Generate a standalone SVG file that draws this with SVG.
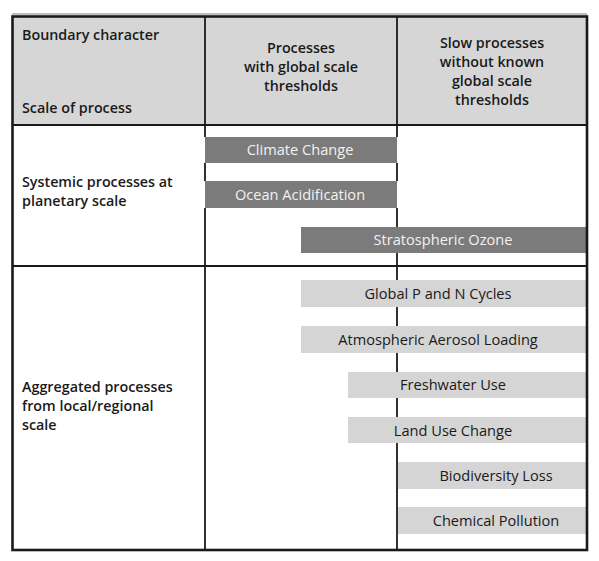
<svg xmlns="http://www.w3.org/2000/svg" width="599" height="561" viewBox="0 0 599 561">
<style>
.hdr{font-family:"Open Sans","Liberation Sans",sans-serif;font-size:14.3px;font-weight:600;fill:#1a1a1a}
.dark rect{fill:#7b7b7b}
.dark text{font-family:"Open Sans","Liberation Sans",sans-serif;font-size:14.6px;fill:#f2f2f2;text-anchor:middle}
.light rect{fill:#d5d5d5}
.light text{font-family:"Open Sans","Liberation Sans",sans-serif;font-size:14.6px;fill:#1a1a1a;text-anchor:middle}
.grid{stroke:#1a1a1a;fill:none}
</style>
<rect width="599" height="561" fill="#ffffff"/>
<rect x="12" y="17" width="575" height="108" fill="#d6d6d6"/>
<g id="bars">
<g id="climate" class="dark"><rect x="205" y="137" width="192" height="26"/><text x="300" y="155">Climate Change</text></g>
<g id="ocean" class="dark"><rect x="205" y="181" width="192" height="27"/><text x="300" y="199.5">Ocean Acidification</text></g>
<g id="ozone" class="dark"><rect x="301" y="227" width="286" height="26"/><text x="443" y="245">Stratospheric Ozone</text></g>
<g id="pn" class="light"><rect x="301" y="280" width="286" height="27"/><text x="438" y="298.5">Global P and N Cycles</text></g>
<g id="aerosol" class="light"><rect x="301" y="326" width="286" height="27"/><text x="438" y="344.5">Atmospheric Aerosol Loading</text></g>
<g id="fresh" class="light"><rect x="348" y="372" width="239" height="26"/><text x="453" y="390">Freshwater Use</text></g>
<g id="land" class="light"><rect x="348" y="417" width="239" height="26"/><text x="453" y="435.5">Land Use Change</text></g>
<g id="bio" class="light"><rect x="398" y="462" width="189" height="27"/><text x="496" y="481">Biodiversity Loss</text></g>
<g id="chem" class="light"><rect x="398" y="507" width="189" height="27"/><text x="496" y="526">Chemical Pollution</text></g>
</g>
<g id="connectors">
<line class="grid" x1="205" y1="17" x2="205" y2="137" stroke-width="1.8"/>
<line class="grid" x1="205" y1="163" x2="205" y2="181" stroke-width="1.8"/>
<line class="grid" x1="205" y1="208" x2="205" y2="550" stroke-width="1.8"/>
<line class="grid" x1="397" y1="17" x2="397" y2="137" stroke-width="1.8"/>
<line class="grid" x1="397" y1="163" x2="397" y2="181" stroke-width="1.8"/>
<line class="grid" x1="397" y1="208" x2="397" y2="227" stroke-width="1.8"/>
<line class="grid" x1="397" y1="253" x2="397" y2="280" stroke-width="1.8"/>
<line class="grid" x1="397" y1="307" x2="397" y2="326" stroke-width="1.8"/>
<line class="grid" x1="397" y1="353" x2="397" y2="372" stroke-width="1.8"/>
<line class="grid" x1="397" y1="398" x2="397" y2="417" stroke-width="1.8"/>
<line class="grid" x1="397" y1="443" x2="397" y2="550" stroke-width="1.8"/>
<line class="grid" x1="12" y1="125" x2="587" y2="125" stroke-width="2"/>
<line class="grid" x1="12" y1="266" x2="587" y2="266" stroke-width="2"/>
<rect class="grid" x="12.5" y="16.5" width="574.5" height="533.5" stroke-width="2.6"/>
<line x1="12" y1="14" x2="587" y2="14" stroke="#555" stroke-width="0.8"/>
</g>
<g id="header">
<text class="hdr" x="22" y="40">Boundary character</text>
<text class="hdr" x="22" y="113">Scale of process</text>
<text class="hdr" text-anchor="middle" x="301" y="53">Processes</text>
<text class="hdr" text-anchor="middle" x="301" y="72">with global scale</text>
<text class="hdr" text-anchor="middle" x="301" y="91">thresholds</text>
<text class="hdr" text-anchor="middle" x="492" y="48">Slow processes</text>
<text class="hdr" text-anchor="middle" x="492" y="67">without known</text>
<text class="hdr" text-anchor="middle" x="492" y="86">global scale</text>
<text class="hdr" text-anchor="middle" x="492" y="105">thresholds</text>
</g>
<g id="rows">
<text class="hdr" x="22" y="187">Systemic processes at</text>
<text class="hdr" x="22" y="206">planetary scale</text>
<text class="hdr" x="22" y="392">Aggregated processes</text>
<text class="hdr" x="22" y="411">from local/regional</text>
<text class="hdr" x="22" y="430">scale</text>
</g>
</svg>
